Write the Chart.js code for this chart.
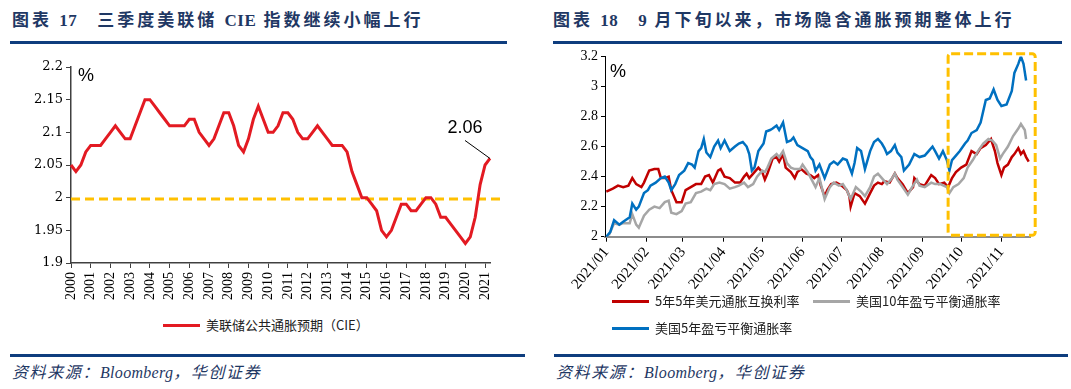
<!DOCTYPE html>
<html>
<head>
<meta charset="utf-8">
<script src="https://cdn.jsdelivr.net/npm/chart.js@4.4.0/dist/chart.umd.min.js"></script>
<style>
  body { margin:0; width:1071px; height:389px; background:#fff; position:relative; overflow:hidden;
         font-family:"Liberation Serif","Noto Sans CJK SC",serif; }
  .abs { position:absolute; }
  .title { font-weight:bold; font-size:17px; line-height:20px; color:#1f3864; letter-spacing:3px; white-space:nowrap; top:11px; }
  .title .en { letter-spacing:0.5px; }
  .rule { height:2.5px; background:#0e3d7e; }
  .src { font-style:italic; font-size:16px; line-height:20px; color:#1f3864; top:363px; white-space:nowrap; letter-spacing:1.6px; }
  .src .en { letter-spacing:0.3px; }
  .lg { font-family:"Noto Sans CJK SC",sans-serif; font-size:13px; line-height:16px; color:#222; white-space:nowrap; }
  .sw { display:inline-block; width:37px; height:3px; vertical-align:middle; margin-right:6px; position:relative; top:-1px; }
  .pct { font-family:"Liberation Sans",sans-serif; font-size:18px; line-height:20px; color:#000; }
</style>
</head>
<body>
<div class="abs title" style="left:12px">图表 <span class="en">17</span>　三季度美联储 <span class="en">CIE</span> 指数继续小幅上行</div>
<div class="abs title" style="left:553px">图表 <span class="en">18</span>　<span class="en">9</span> 月下旬以来，市场隐含通胀预期整体上行</div>
<div class="abs rule" style="left:10px;top:41px;width:497px"></div>
<div class="abs rule" style="left:553px;top:41px;width:509px"></div>

<div class="abs" style="left:0;top:50px;width:540px;height:250px"><canvas id="cieChart"></canvas></div>
<div class="abs" style="left:545px;top:45px;width:526px;height:250px"><canvas id="beChart"></canvas></div>

<div class="abs pct" style="left:78px;top:65px">%</div>
<div class="abs pct" style="left:610px;top:61px">%</div>

<div class="abs lg" style="left:163px;top:317px"><span class="sw" style="background:#e31a22"></span>美联储公共通胀预期（CIE）</div>
<div class="abs lg" style="left:612px;top:293px"><span class="sw" style="background:#c00000"></span>5年5年美元通胀互换利率</div>
<div class="abs lg" style="left:813px;top:293px"><span class="sw" style="background:#a6a6a6"></span>美国10年盈亏平衡通胀率</div>
<div class="abs lg" style="left:612px;top:320px"><span class="sw" style="background:#0070c0"></span>美国5年盈亏平衡通胀率</div>

<div class="abs rule" style="left:10px;top:354px;width:515px"></div>
<div class="abs rule" style="left:554px;top:354px;width:514px"></div>
<div class="abs src" style="left:12px">资料来源：<span class="en">Bloomberg</span>，华创证券</div>
<div class="abs src" style="left:556px">资料来源：<span class="en">Bloomberg</span>，华创证券</div>

<script>
// ---- left: CIE, quarterly 2000Q1 - 2021Q2 ----
const cieValues = [
  2.05, 2.04, 2.05, 2.07,  2.08, 2.08, 2.08, 2.09,  2.10, 2.11, 2.10, 2.09,
  2.09, 2.11, 2.13, 2.15,  2.15, 2.14, 2.13, 2.12,  2.11, 2.11, 2.11, 2.11,
  2.12, 2.12, 2.10, 2.09,  2.08, 2.09, 2.11, 2.13,  2.13, 2.11, 2.08, 2.07,
  2.09, 2.12, 2.14, 2.12,  2.10, 2.10, 2.11, 2.13,  2.13, 2.12, 2.10, 2.09,
  2.09, 2.10, 2.11, 2.10,  2.09, 2.08, 2.08, 2.08,  2.07, 2.04, 2.02, 2.00,
  2.00, 1.99, 1.98, 1.95,  1.94, 1.95, 1.97, 1.99,  1.99, 1.98, 1.98, 1.99,
  2.00, 2.00, 1.99, 1.97,  1.97, 1.96, 1.95, 1.94,  1.93, 1.94, 1.97, 2.02,
  2.05, 2.06
];
const cieYears = ['2000','2001','2002','2003','2004','2005','2006','2007','2008','2009','2010',
                  '2011','2012','2013','2014','2015','2016','2017','2018','2019','2020','2021'];
const cieTarget = 1.998;   // dashed 2% reference
const cieYTicks = [1.9, 1.95, 2, 2.05, 2.1, 2.15, 2.2];

// quarter categories
const cieQuarters = [];
cieYears.forEach(y => { for (let q = 1; q <= 4; q++) cieQuarters.push(y + 'Q' + q); });
cieQuarters.length = cieValues.length;

// ---- right: breakeven / swap, daily 2021 (x = day of year, 0 = Jan 1) ----
const monthTicks  = [0, 31, 59, 90, 120, 151, 181, 212, 243, 273, 304];
const monthLabels = ['2021/01','2021/02','2021/03','2021/04','2021/05','2021/06',
                     '2021/07','2021/08','2021/09','2021/10','2021/11'];

const swapDays = [0,5,9,13,17,20,23,27,29,33,37,40,42,45,48,50,54,58,61,65,69,73,76,79,82,86,88,91,95,99,
  103,106,108,110,113,117,120,122,124,128,131,133,136,138,142,145,147,150,154,157,160,163,165,168,170,173,
  177,181,185,187,188,191,195,199,203,206,209,212,214,218,222,224,228,232,236,237,241,245,250,253,256,260,
  263,266,269,273,277,281,285,288,292,296,299,301,304,306,309,312,314,317,319,321,323,325];
const swapVals = [2.30,2.32,2.34,2.33,2.34,2.39,2.35,2.33,2.36,2.44,2.45,2.45,2.39,2.39,2.40,2.31,2.23,2.23,
  2.31,2.33,2.35,2.35,2.40,2.41,2.36,2.44,2.45,2.40,2.39,2.36,2.36,2.40,2.42,2.39,2.42,2.46,2.43,2.38,2.42,
  2.52,2.53,2.50,2.55,2.46,2.43,2.39,2.43,2.45,2.42,2.41,2.39,2.41,2.34,2.27,2.31,2.35,2.36,2.34,2.31,2.27,
  2.20,2.29,2.27,2.22,2.29,2.34,2.36,2.35,2.37,2.36,2.42,2.39,2.35,2.29,2.33,2.39,2.35,2.34,2.41,2.39,2.35,
  2.36,2.33,2.39,2.43,2.46,2.48,2.57,2.55,2.59,2.61,2.65,2.57,2.49,2.41,2.46,2.48,2.53,2.55,2.59,2.55,2.57,
  2.53,2.50];

const be10Days = [2,6,10,13,18,20,23,25,29,33,37,41,45,48,50,54,58,61,65,69,73,77,80,83,87,91,95,99,102,106,
  109,113,116,120,122,124,127,131,133,136,139,142,145,149,151,155,158,161,164,168,172,175,179,182,185,188,
  192,196,199,203,206,209,212,216,220,222,224,228,232,236,239,241,245,250,253,257,262,264,267,271,275,278,
  282,286,290,294,297,300,303,305,309,313,317,319,322,323];
const be10Vals = [2.01,2.09,2.08,2.09,2.09,2.15,2.08,2.06,2.14,2.18,2.20,2.19,2.23,2.24,2.16,2.15,2.17,2.22,
  2.23,2.29,2.30,2.32,2.31,2.35,2.36,2.35,2.32,2.33,2.34,2.36,2.33,2.35,2.40,2.44,2.43,2.46,2.52,2.55,2.53,
  2.57,2.49,2.46,2.45,2.45,2.48,2.43,2.38,2.33,2.39,2.25,2.33,2.36,2.34,2.35,2.31,2.25,2.33,2.30,2.27,2.33,
  2.40,2.42,2.39,2.35,2.39,2.42,2.38,2.33,2.28,2.34,2.38,2.34,2.33,2.36,2.35,2.35,2.33,2.29,2.33,2.35,2.39,
  2.46,2.51,2.57,2.62,2.65,2.64,2.61,2.52,2.55,2.60,2.67,2.72,2.75,2.71,2.65];

const be5Days = [0,3,6,10,13,18,20,23,25,29,32,34,38,42,45,48,50,53,56,60,63,66,68,71,73,75,77,80,83,86,88,
  91,95,99,102,105,108,110,112,114,117,121,123,126,128,131,133,136,139,142,144,147,151,155,157,159,161,164,
  168,172,175,178,182,185,189,191,193,196,199,203,206,209,212,214,216,219,222,224,227,229,233,237,241,245,
  248,251,253,256,259,262,264,266,269,272,276,278,281,285,288,292,295,298,301,304,308,312,314,317,319,321,323];
const be5Vals = [2.00,2.03,2.11,2.08,2.10,2.13,2.22,2.18,2.20,2.29,2.31,2.34,2.36,2.39,2.40,2.36,2.31,2.35,
  2.41,2.44,2.49,2.48,2.46,2.57,2.59,2.65,2.56,2.53,2.60,2.64,2.59,2.64,2.57,2.60,2.62,2.63,2.60,2.55,2.44,
  2.46,2.57,2.62,2.70,2.71,2.72,2.74,2.71,2.76,2.63,2.64,2.66,2.61,2.59,2.57,2.53,2.51,2.44,2.48,2.39,2.48,
  2.50,2.48,2.52,2.51,2.42,2.49,2.59,2.57,2.45,2.57,2.63,2.65,2.62,2.59,2.55,2.57,2.61,2.56,2.53,2.44,2.48,
  2.55,2.53,2.54,2.57,2.60,2.57,2.52,2.57,2.51,2.44,2.51,2.54,2.57,2.62,2.64,2.69,2.71,2.76,2.91,2.92,2.98,
  2.91,2.87,2.88,2.97,3.09,3.15,3.20,3.15,3.04];

const boxFrom = { day: 263, value: 2.01 };   // highlight since late Sept
const boxTo   = { day: 330, value: 3.218 };

function xy(days, vals) { return days.map((d, i) => ({ x: d, y: vals[i] })); }

Chart.defaults.animation = false;
Chart.defaults.plugins.legend.display = false;
Chart.defaults.plugins.tooltip.enabled = false;

// plugin: dashed 2% line + "2.06" callout on the CIE chart
const ciePlugin = {
  id: 'ciePlugin',
  beforeDatasetsDraw(chart) {
    const { ctx, chartArea, scales } = chart;
    const y = scales.y.getPixelForValue(cieTarget);
    ctx.save();
    ctx.strokeStyle = '#ffc000';
    ctx.lineWidth = 3;
    ctx.setLineDash([9, 5]);
    ctx.beginPath();
    ctx.moveTo(chartArea.left, y);
    ctx.lineTo(chartArea.right + 10, y);
    ctx.stroke();
    ctx.restore();
  },
  afterDraw(chart) {
    const { ctx } = chart;
    const pt = chart.getDatasetMeta(0).data[cieValues.length - 1];
    ctx.save();
    ctx.strokeStyle = '#000';
    ctx.lineWidth = 1;
    ctx.beginPath();
    ctx.moveTo(pt.x - 25, pt.y - 18);
    ctx.lineTo(pt.x, pt.y);
    ctx.stroke();
    ctx.fillStyle = '#000';
    ctx.font = '18px "Liberation Sans"';
    ctx.textAlign = 'center';
    ctx.textBaseline = 'alphabetic';
    ctx.fillText(cieValues[cieValues.length - 1].toFixed(2), pt.x - 25, pt.y - 25);
    ctx.restore();
  }
};

new Chart(document.getElementById('cieChart'), {
  type: 'line',
  data: {
    labels: cieQuarters,
    datasets: [{ data: cieValues, borderColor: '#e31a22', borderWidth: 3, pointRadius: 0, tension: 0 }]
  },
  options: {
    responsive: true, maintainAspectRatio: false,
    layout: { padding: { top: 17, right: 50, left: 0, bottom: 0 } },
    scales: {
      x: {
        type: 'category', offset: false,
        afterBuildTicks: s => { s.ticks = s.ticks.filter(t => cieQuarters[t.value].endsWith('Q1')); },
        afterFit: s => { s.height = 37; },
        ticks: { autoSkip: false, minRotation: 90, maxRotation: 90, padding: 4,
                 color: '#000', font: { family: 'Liberation Serif', size: 14 },
                 callback: (v) => cieQuarters[v].slice(0, 4) },
        grid: { drawOnChartArea: false, drawTicks: true, tickLength: 5, color: '#404040' },
        border: { color: '#404040', width: 1.5 }
      },
      y: {
        min: 1.9, max: 2.2,
        afterBuildTicks: s => { s.ticks = cieYTicks.map(v => ({ value: v })); },
        afterFit: s => { s.width = 71; },
        ticks: { padding: 3, color: '#000', font: { family: 'DejaVu Serif', size: 13 },
                 callback: v => String(parseFloat(v.toFixed(2))) },
        grid: { drawOnChartArea: false, drawTicks: true, tickLength: 5, color: '#404040' },
        border: { color: '#404040', width: 1.5 }
      }
    }
  },
  plugins: [ciePlugin]
});

// plugin: dashed highlight box
const boxPlugin = {
  id: 'boxPlugin',
  afterDraw(chart) {
    const { ctx, scales } = chart;
    const x0 = scales.x.getPixelForValue(boxFrom.day), x1 = scales.x.getPixelForValue(boxTo.day);
    const y0 = scales.y.getPixelForValue(boxTo.value), y1 = scales.y.getPixelForValue(boxFrom.value);
    ctx.save();
    ctx.strokeStyle = '#ffc000';
    ctx.lineWidth = 3;
    ctx.setLineDash([9, 4]);
    ctx.beginPath();
    ctx.roundRect(x0, y0, x1 - x0, y1 - y0, 3);
    ctx.stroke();
    ctx.restore();
  }
};

new Chart(document.getElementById('beChart'), {
  type: 'line',
  data: {
    datasets: [
      { data: xy(be5Days, be5Vals),   borderColor: '#0070c0', borderWidth: 2.5, order: 1 },
      { data: xy(be10Days, be10Vals), borderColor: '#a6a6a6', borderWidth: 2.5, order: 2 },
      { data: xy(swapDays, swapVals), borderColor: '#c00000', borderWidth: 2.5, order: 3 }
    ]
  },
  options: {
    responsive: true, maintainAspectRatio: false,
    elements: { point: { radius: 0 }, line: { tension: 0 } },
    layout: { padding: { top: 10.7, right: 41, left: 0, bottom: 0 } },
    scales: {
      x: {
        type: 'linear', min: -1, max: 326,
        afterBuildTicks: s => { s.ticks = monthTicks.map(v => ({ value: v })); },
        afterFit: s => { s.height = 58.3; },
        ticks: { autoSkip: false, minRotation: 50, maxRotation: 50, padding: 2,
                 color: '#000', font: { family: 'Liberation Serif', size: 15 },
                 callback: (v, i) => monthLabels[i] },
        grid: { drawOnChartArea: false, drawTicks: true, tickLength: 5, color: '#000' },
        border: { color: '#8c8c8c', width: 2 }
      },
      y: {
        min: 2, max: 3.2,
        ticks: { stepSize: 0.2, padding: 3, color: '#000', font: { family: 'Liberation Serif', size: 14 },
                 callback: v => String(parseFloat(v.toFixed(1))) },
        afterFit: s => { s.width = 60; },
        grid: { drawOnChartArea: false, drawTicks: true, tickLength: 4, color: '#000' },
        border: { color: '#000', width: 1 }
      }
    }
  },
  plugins: [boxPlugin]
});
</script>
</body>
</html>
